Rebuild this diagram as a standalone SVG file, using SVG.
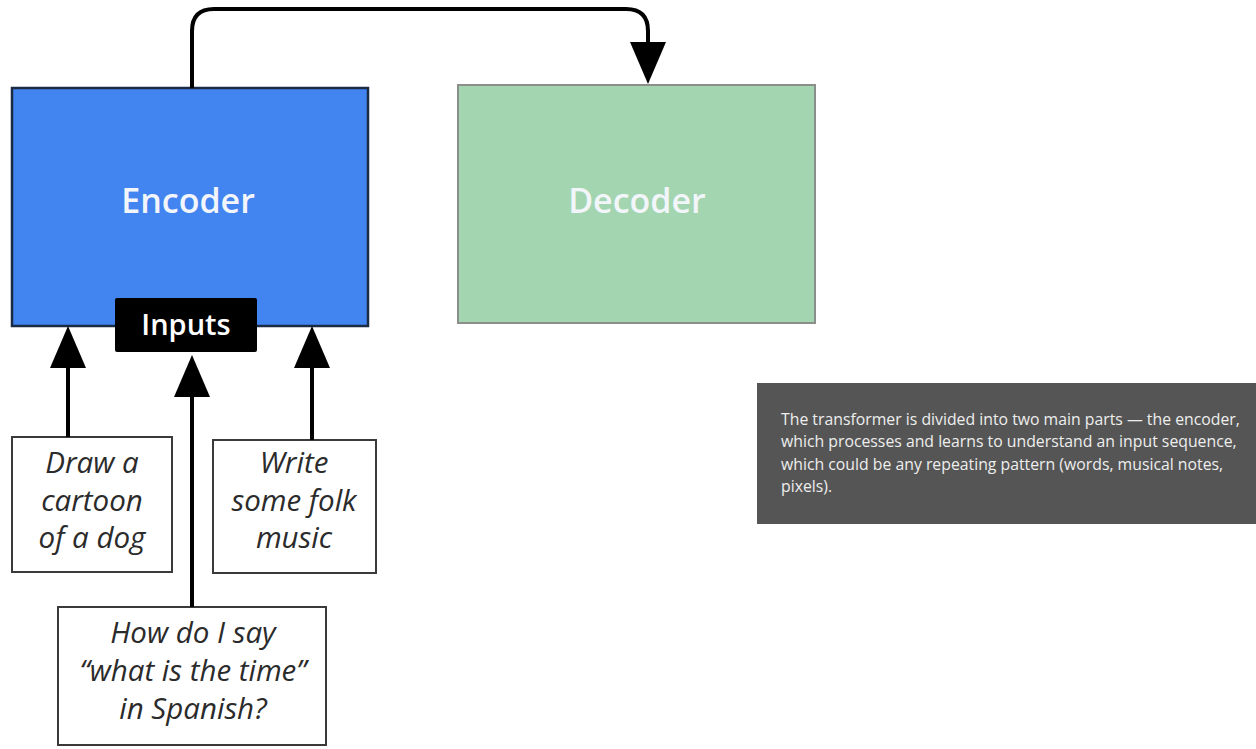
<svg xmlns="http://www.w3.org/2000/svg" width="1256" height="749" viewBox="0 0 1256 749">
  <style>
    .block-label { font-family: "Open Sans", "Noto Sans", sans-serif; font-size: 34px; font-weight: 600; fill: #f2f6fb; text-anchor: middle; }
    .prompt { fill: #ffffff; stroke: #3a3a3a; stroke-width: 2; }
    .prompt-text { font-family: "Open Sans", "Noto Sans", sans-serif; font-style: italic; font-size: 29.5px; fill: #2b2b2b; text-anchor: middle; }
    .wire { fill: none; stroke: #000000; stroke-width: 4; }
    .note-text { font-family: "Open Sans", "Noto Sans", sans-serif; font-size: 15.8px; fill: #eeeeee; }
  </style>
  <defs>
    <marker id="head" markerUnits="userSpaceOnUse" markerWidth="44" markerHeight="38" refX="1" refY="18" orient="auto" viewBox="0 0 44 36">
      <path d="M0,0 L42,18 L0,36 Z" fill="#000000"/>
    </marker>
  </defs>

  <rect x="0" y="0" width="1256" height="749" fill="#ffffff"/>

  <g id="encoder">
    <rect x="12" y="88" width="356" height="238" fill="#4285f0" stroke="#1b2b44" stroke-width="2.5"/>
    <text class="block-label" x="188" y="213">Encoder</text>
  </g>

  <g id="decoder">
    <rect x="458" y="85" width="357" height="238" fill="#a3d5b0" stroke="#8a8f8b" stroke-width="2"/>
    <text class="block-label" x="637" y="213">Decoder</text>
  </g>

  <g id="inputs">
    <rect x="115" y="298" width="142" height="54" rx="2" fill="#000000"/>
    <text x="186" y="335" font-family="'Open Sans', 'Noto Sans', sans-serif" font-size="29" font-weight="600" fill="#ffffff" text-anchor="middle">Inputs</text>
  </g>

  <g id="prompt-dog">
    <rect class="prompt" x="12" y="437" width="160" height="135"/>
    <text class="prompt-text" x="92" y="473">Draw a</text>
    <text class="prompt-text" x="92" y="511">cartoon</text>
    <text class="prompt-text" x="92" y="548">of a dog</text>
  </g>

  <g id="prompt-music">
    <rect class="prompt" x="213" y="440" width="163" height="133"/>
    <text class="prompt-text" x="294" y="473">Write</text>
    <text class="prompt-text" x="294" y="511">some folk</text>
    <text class="prompt-text" x="294" y="548">music</text>
  </g>

  <g id="prompt-spanish">
    <rect class="prompt" x="58" y="607" width="268" height="138"/>
    <text class="prompt-text" x="193" y="643">How do I say</text>
    <text class="prompt-text" x="193" y="681">“what is the time”</text>
    <text class="prompt-text" x="193" y="719">in Spanish?</text>
  </g>

  <g id="connectors">
    <path class="wire" d="M192,88 V31 Q192,9 214,9 H626 Q648,9 648,31 V43" marker-end="url(#head)"/>
    <path class="wire" d="M68,437 V367" marker-end="url(#head)"/>
    <path class="wire" d="M312,440 V367" marker-end="url(#head)"/>
    <path class="wire" d="M192,607 V396" marker-end="url(#head)"/>
  </g>

  <g id="note">
    <rect x="757" y="383" width="499" height="141" fill="#555555"/>
    <text class="note-text" x="781" y="425">The transformer is divided into two main parts — the encoder,</text>
    <text class="note-text" x="781" y="447">which processes and learns to understand an input sequence,</text>
    <text class="note-text" x="781" y="470">which could be any repeating pattern (words, musical notes,</text>
    <text class="note-text" x="781" y="492">pixels).</text>
  </g>
</svg>
